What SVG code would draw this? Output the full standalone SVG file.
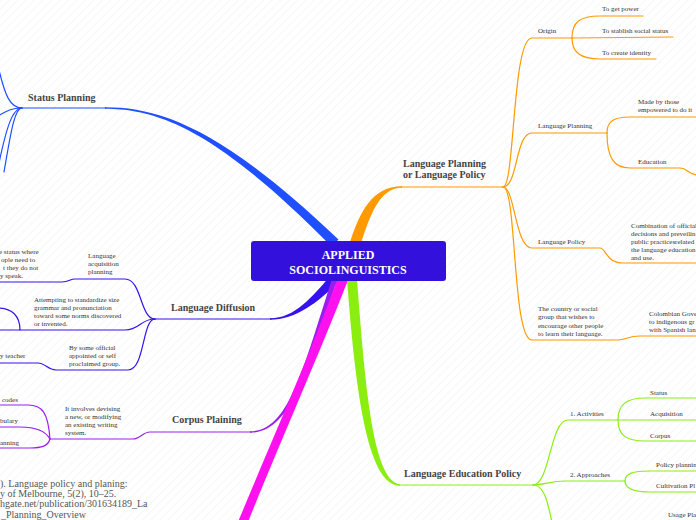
<svg xmlns="http://www.w3.org/2000/svg" width="696" height="520" viewBox="0 0 696 520">
<defs>
<pattern id="bg" width="6" height="6" patternUnits="userSpaceOnUse" patternTransform="rotate(45)">
<line x1="0" y1="0" x2="0" y2="6" stroke="#f0f0f0" stroke-width="1"/>
</pattern>
</defs>
<style>
.t{font-family:"Liberation Serif","Times New Roman",serif;font-size:7px;fill:#333}
.m{font-family:"Liberation Serif","Times New Roman",serif;font-size:10px;font-weight:bold;fill:#444}
.c{font-family:"Liberation Serif","Times New Roman",serif;font-size:12px;font-weight:bold;fill:#fff}
.r{font-family:"Liberation Serif","Times New Roman",serif;font-size:10px;fill:#555}
.l{fill:none;stroke-width:1.2;stroke-linecap:round}
.sp{stroke:#1f4fff}
.ld{stroke:#3612ee}
.cp{stroke:#9a1ef0}
.or{stroke:#ff9a00}
.gr{stroke:#8cee10}
</style>
<rect width="696" height="520" fill="#fff"/>
<rect width="696" height="520" fill="url(#bg)"/>

<g id="connectors">
<path d="M105,107.25 C160,107.2 221.5,128 338.5,239.5 L331.5,246.5 C218.5,132 160,108.8 105,108.75 Z" fill="#1f4fff"/>
<path class="l sp" d="M20,108 L106,108"/>
<path class="l sp" d="M22,108 C10,108 5,95 -1,70"/>
<path class="l sp" d="M22,108 C10,108 5,112 -2,116"/>
<path class="l sp" d="M22,108 C12,108 6,130 -1,163"/>
<path class="l sp" d="M22,108 C14,108 10,138 4,172"/>
<path d="M270,318.3 C295,318.2 312,297 331,275 L339,281 C318,303 295,319.8 270,319.7 Z" fill="#3612ee"/>
<path class="l ld" d="M155,319 L271,319"/>
<path class="l ld" d="M155,319 C140,319 142,279 125,279 L75,279 C70,279 69,282 62,282 L-2,282"/>
<path class="l ld" d="M155,319 C140,319 140,330 125,330 L-2,330"/>
<path class="l ld" d="M20,330 C20,316 12,308 -2,308"/>
<path class="l ld" d="M155,319 C142,319 145,370 128,370 L56,370 C48,370 45,363 38,363 L-2,363"/>
<path d="M250,431.3 C289,431.2 302.6,369.2 332.6,277.2 L337.4,278.8 C307.4,370.8 291,432.8 250,432.7 Z" fill="#9a1ef0"/>
<path class="l cp" d="M251,432 L150,432 C143,432 140,439 133,439 L50,439"/>
<path class="l cp" d="M50,439 C48,412 42,405 28,405 L-2,405"/>
<path class="l cp" d="M50,439 C45,430 35,427 20,427 L-2,427"/>
<path class="l cp" d="M50,439 C48,446 42,448 30,448 L-2,448"/>
<path d="M337,280 C312,350 272,440 238,522 L248,522 C281,440 321,350 348,280 Z" fill="#ff10ee"/>
<path d="M347,280 C355,382 366,486 400,485.75 L400,484.25 C372,481 365,380 357,280 Z" fill="#8cee10"/>
<path class="l gr" d="M399,485 L533,485"/>
<path class="l gr" d="M533,485 C550,485 550,420 568,420 L618,420"/>
<path class="l gr" d="M618,420 C618,405 626,398 645,398 L698,398"/>
<path class="l gr" d="M618,420 L698,420"/>
<path class="l gr" d="M618,420 C618,435 626,441 645,441 L698,441"/>
<path class="l gr" d="M533,485 C545,485 550,481 565,481 L625,481"/>
<path class="l gr" d="M625,481 C625,474 632,471 650,471 L698,471"/>
<path class="l gr" d="M625,481 C625,488 632,492 650,492 L698,492"/>
<path class="l gr" d="M533,485 C545,485 548,505 552,522"/>
<path d="M350,242 C360,212 372,186.25 402,186.25 L402,187.75 C379,187.75 370,216 360,246 Z" fill="#ff9a00"/>
<path class="l or" d="M401,187 L503,187"/>
<path class="l or" d="M503,187 C515,187 512,38 532,38 L572,38"/>
<path class="l or" d="M572,38 C572,22 580,16 600,16 L643,16"/>
<path class="l or" d="M572,38 L673,37"/>
<path class="l or" d="M572,38 C572,52 580,59 600,59 L656,59"/>
<path class="l or" d="M503,187 C518,187 515,133 532,133 L607,133"/>
<path class="l or" d="M607,133 C607,121 614,117 630,117 L698,117"/>
<path class="l or" d="M607,133 C607,158 614,168 630,168 L680,168 C688,168 688,175 698,175"/>
<path class="l or" d="M503,187 C515,187 515,248 532,248 L600,248 C606,248 606,263 623,263 L698,263"/>
<path class="l or" d="M503,187 C517,187 512,340 532,340 L618,340 C626,340 628,336 640,336 L698,336"/>
</g>

<g id="center">
<rect x="251" y="241" width="195" height="40" rx="3" fill="#3410dd"/>
<text class="c" x="348" y="259" text-anchor="middle">APPLIED</text>
<text class="c" x="348" y="274" text-anchor="middle">SOCIOLINGUISTICS</text>
</g>

<g id="status-planning"><text class="m" x="28" y="101">Status Planning</text></g>
<g id="language-diffusion"><text class="m" x="171" y="311">Language Diffusion</text></g>
<g id="corpus-plaining"><text class="m" x="172" y="423">Corpus Plaining</text></g>
<g id="language-education-policy"><text class="m" x="404" y="477">Language Education Policy</text></g>
<g id="language-planning-policy"><text class="m" x="403" y="167">Language Planning</text><text class="m" x="403" y="178">or Language Policy</text></g>

<g id="status-left"><text class="t" x="-1" y="253.5">e status where</text><text class="t" x="1" y="261.5">ople need to</text><text class="t" x="3" y="269.5">t they do not</text><text class="t" x="0" y="277.5">y speak.</text></g>
<g id="acq-planning"><text class="t" x="88" y="258">Language</text><text class="t" x="88" y="266">acquisition</text><text class="t" x="88" y="274">planning</text></g>
<g id="attempting"><text class="t" x="34" y="301.5">Attempting to standardize size</text><text class="t" x="34" y="309.5">grammar and pronunciation</text><text class="t" x="34" y="317.5">toward some norms discovered</text><text class="t" x="34" y="325.5">or invented.</text></g>
<g id="by-some"><text class="t" x="69" y="349.5">By some official</text><text class="t" x="69" y="357.5">appointed or self</text><text class="t" x="69" y="365.5">proclaimed group.</text></g>
<g id="teacher"><text class="t" x="0" y="357.5">y teacher</text></g>
<g id="involves"><text class="t" x="65" y="410.5">It involves devising</text><text class="t" x="65" y="418.5">a new, or modifying</text><text class="t" x="65" y="426.5">an existing writing</text><text class="t" x="65" y="434.5">system.</text></g>
<g id="codes"><text class="t" x="2" y="401.5">codes</text></g>
<g id="vocabulary"><text class="t" x="0" y="422.5">bulary</text></g>
<g id="planning-left"><text class="t" x="0" y="444.5">anning</text></g>

<g id="origin"><text class="t" x="538" y="33">Origin</text></g>
<g id="get-power"><text class="t" x="602" y="11">To get power</text></g>
<g id="social-status"><text class="t" x="602" y="33">To stablish social status</text></g>
<g id="identity"><text class="t" x="602" y="54.5">To create identity</text></g>
<g id="lp"><text class="t" x="538" y="128">Language Planning</text></g>
<g id="made-by"><text class="t" x="638" y="104">Made by those</text><text class="t" x="638" y="112">empowered to do it</text></g>
<g id="education"><text class="t" x="638" y="163.5">Education</text></g>
<g id="lpolicy"><text class="t" x="538" y="243.5">Language Policy</text></g>
<g id="combination"><text class="t" x="631" y="227.5">Combination of official</text><text class="t" x="631" y="235.5">decisions and preveilin</text><text class="t" x="631" y="244">public practicesrelated</text><text class="t" x="631" y="251.5">the language education</text><text class="t" x="631" y="259.5">and use.</text></g>
<g id="country"><text class="t" x="538" y="310.5">The country or social</text><text class="t" x="538" y="319">group that wishes to</text><text class="t" x="538" y="327.5">encourage other people</text><text class="t" x="538" y="335.5">to learn their language.</text></g>
<g id="colombian"><text class="t" x="649" y="315.5">Colombian Gove</text><text class="t" x="649" y="323.5">to indigenous gr</text><text class="t" x="649" y="331.5">with Spanish lan</text></g>

<g id="activities"><text class="t" x="570" y="415.5">1. Activities</text></g>
<g id="status"><text class="t" x="650" y="394.5">Status</text></g>
<g id="acquisition"><text class="t" x="650" y="415.5">Acquisition</text></g>
<g id="corpus"><text class="t" x="650" y="437.5">Corpus</text></g>
<g id="approaches"><text class="t" x="570" y="476.5">2. Approaches</text></g>
<g id="policy-planning"><text class="t" x="656" y="466.5">Policy plannin</text></g>
<g id="cultivation"><text class="t" x="656" y="487.5">Cultivation Pl</text></g>
<g id="usage"><text class="t" x="668" y="516.5">Usage Pla</text></g>

<g id="reference"><text class="r" x="0" y="486.5">). Language policy and planing:</text><text class="r" x="0" y="496.5">y of Melbourne, 5(2), 10–25.</text><text class="r" x="0" y="506.5">hgate.net/publication/301634189_La</text><text class="r" x="1" y="517.5">_Planning_Overview</text></g>
</svg>
